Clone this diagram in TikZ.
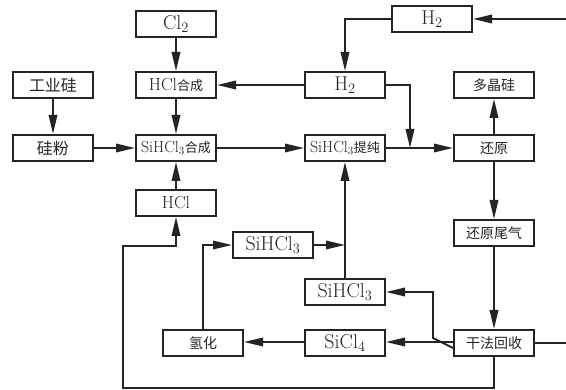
\documentclass[tikz,border=0pt]{standalone}
\usepackage{fontspec}
\newfontfamily\cjk{Noto Sans CJK SC}
\usetikzlibrary{arrows.meta}
\definecolor{ink}{rgb}{0.14,0.14,0.14}
\tikzset{
  box/.style={draw=ink, line width=2pt, minimum width=80pt, minimum height=26pt, inner sep=0pt, text=ink},
  ln/.style={draw=ink, line width=1.8pt},
  arr/.style={ln, -{Triangle[length=19pt,width=8.5pt]}},
  big/.style={font=\fontsize{20}{20}\selectfont},
  mid/.style={font=\fontsize{16}{16}\selectfont},
  mhc/.style={font=\fontsize{17.5}{17.5}\selectfont},
  cn/.style={font=\fontsize{14}{14}\selectfont\cjk},
  cnb/.style={font=\fontsize{16}{16}\selectfont\cjk},
}
\newcommand{\zh}[1]{{\fontsize{13}{13}\selectfont\cjk #1}}
\begin{document}
\begin{tikzpicture}[x=1pt,y=-1pt]
\useasboundingbox (0,0) rectangle (566,390);
% nodes
\node[box,big] (cl2) at (176,24) {Cl$_2$};
\node[box,mhc] (hclsyn) at (176,85) {HCl\zh{合成}};
\node[box,cnb] (gys) at (53,85) {工业硅};
\node[box,cnb] (gf) at (53,148) {硅粉};
\node[box,mid] (sisyn) at (176,148) {SiHCl$_3$\zh{合成}};
\node[box,mhc] (hcl) at (176,203) {HCl};
\node[box,big] (h2top) at (432,19) {H$_2$};
\node[box,big] (h2mid) at (345,85) {H$_2$};
\node[box,cn] (djg) at (494,85) {多晶硅};
\node[box,mid] (tc) at (345,148) {SiHCl$_3$\zh{提纯}};
\node[box,cn] (hy) at (494,148) {还原};
\node[box,cn] (hywq) at (494,233) {还原尾气};
\node[box,big] (sih1) at (273,245) {SiHCl$_3$};
\node[box,big] (sih2) at (345,292) {SiHCl$_3$};
\node[box,big] (sicl4) at (345,343) {SiCl$_4$};
\node[box,cn] (qh) at (203,343) {氢化};
\node[box,cn] (gfhs) at (494,343) {干法回收};
% free ends
\coordinate (rin) at (566,19);
\coordinate (rout) at (566,343);
\coordinate (j1) at (410,148);
\coordinate (j2) at (345,245);
% connectors
\draw[arr] (cl2) -- (hclsyn);
\draw[arr] (h2mid) -- (hclsyn);
\draw[arr] (hclsyn) -- (sisyn);
\draw[arr] (gys) -- (gf);
\draw[arr] (gf) -- (sisyn);
\draw[arr] (sisyn) -- (tc);
\draw[arr] (hcl) -- (sisyn);
\draw[arr] (tc) -- (hy);
\draw[arr] (rin) -- (h2top);
\draw[arr] (h2top.west) -| (h2mid.north);
\draw[arr] (h2mid.east) -| (j1);
\draw[arr] (hy) -- (djg);
\draw[arr] (hy) -- (hywq);
\draw[arr] (hywq) -- (gfhs);
\draw[arr] ([yshift=1pt]gfhs.west) -- ([yshift=1pt]sicl4.east);
\draw[arr] ([yshift=-5pt]gfhs.west) -- (433,338) -- (433,292) -- (sih2.east);
\draw[arr] (sih2) -- (tc);
\draw[arr] (sih1) -- (j2);
\draw[arr] (qh.north) |- (sih1.west);
\draw[arr] ([yshift=1pt]sicl4.west) -- ([yshift=1pt]qh.east);
\draw[ln] (gfhs.east) -- (rout);
\draw[arr] (gfhs.south) -- (494,388) -- (123,388) -- (123,246) -- (176,246) -- (hcl.south);
\end{tikzpicture}
\end{document}
